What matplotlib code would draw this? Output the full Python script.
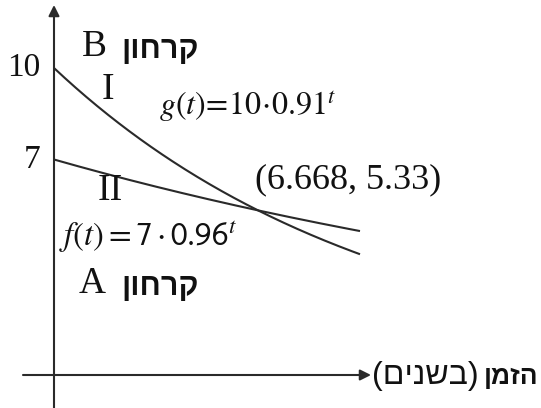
import numpy as np
import matplotlib
matplotlib.use("Agg")
import matplotlib.pyplot as plt

# ---- data ----
g_base, g_rate = 10, 0.91       # g(t) = 10 * 0.91^t  (glacier B, curve I)
f_base, f_rate = 7, 0.96        # f(t) = 7 * 0.96^t   (glacier A, curve II)
t_end = 10
intersection = (6.668, 5.33)
y_ticks = [10, 7]
y_tick_labels = ["10", "7"]

W, H = 541, 408
DPI = 100
plt.rcParams["mathtext.fontset"] = "stix"
fig = plt.figure(figsize=(W / DPI, H / DPI), dpi=DPI)
ax = fig.add_axes([0, 0, 1, 1])

# pixel anchors of the reference drawing
X0, SX = 54, 30.6      # pixel of t=0, px per unit
Y10, SY = 68, 30.5     # pixel of y=10, px per unit

def px2x(px):
    return (px - X0) / SX

def px2y(py):
    return 10 - (py - Y10) / SY

ax.set_xlim(px2x(0), px2x(W))
ax.set_ylim(px2y(H), px2y(0))
ax.axis("off")

col = "#2a2a2a"
ink = "#111111"

t = np.linspace(0, t_end, 200)
ax.plot(t, g_base * g_rate ** t, color=col, lw=1.5, solid_capstyle="butt")
ax.plot(t, f_base * f_rate ** t, color=col, lw=1.5, solid_capstyle="butt")

# axes with arrows
ax.annotate("", xy=(0, px2y(5)), xytext=(0, px2y(H + 2)),
            arrowprops=dict(arrowstyle="-|>", color=col, lw=1.5,
                            mutation_scale=16, shrinkA=0, shrinkB=0))
ax.annotate("", xy=(px2x(371), px2y(375)), xytext=(px2x(23), px2y(375)),
            arrowprops=dict(arrowstyle="-|>", color=col, lw=1.5,
                            mutation_scale=16, shrinkA=0, shrinkB=0))

serif = "Liberation Serif"
hebfam = ["Liberation Sans", "DejaVu Sans"]

for v, lab in zip(y_ticks, y_tick_labels):
    ax.text(px2x(40), v, lab, ha="right", va="center", family=serif,
            fontsize=24, color=ink)

# glacier labels
ax.text(px2x(82), px2y(47), "B", ha="left", va="center", family=serif,
        fontsize=27, color=ink)
ax.text(px2x(121), px2y(50), "ןוחרק", ha="left", va="center", fontsize=22,
        family=hebfam, weight="bold", color=ink)
ax.text(px2x(79), px2y(284), "A", ha="left", va="center", family=serif,
        fontsize=27, color=ink)
ax.text(px2x(121), px2y(287), "ןוחרק", ha="left", va="center", fontsize=22,
        family=hebfam, weight="bold", color=ink)

# curve labels
ax.text(px2x(108), px2y(90), "I", ha="center", va="center", family=serif,
        fontsize=27, color=ink)
ax.text(px2x(110), px2y(191), "II", ha="center", va="center", family=serif,
        fontsize=27, color=ink)

ax.text(px2x(159), px2y(107), r"$g(t)\!=\!10\!\cdot\!0.91^{t}$", ha="left",
        va="center", fontsize=23, color=ink)
ax.text(px2x(59), px2y(237), r"$f(t) = \mathsf{7\cdot 0.96}^{t}$", ha="left",
        va="center", fontsize=23.5, color=ink)

ax.text(px2x(255), px2y(180),
        "({:.3f}, {:.2f})".format(*intersection), ha="left", va="center",
        family=serif, fontsize=26, color=ink)

# x-axis label (Hebrew, visual order)
ax.text(px2x(479), px2y(376), "(םינשב)", ha="right", va="center",
        family=hebfam, fontsize=23, color=ink)
ax.text(px2x(538), px2y(377), "ןמזה", ha="right", va="center",
        family=hebfam, weight="bold", fontsize=19, color=ink)

fig.savefig("out.png", dpi=DPI)
